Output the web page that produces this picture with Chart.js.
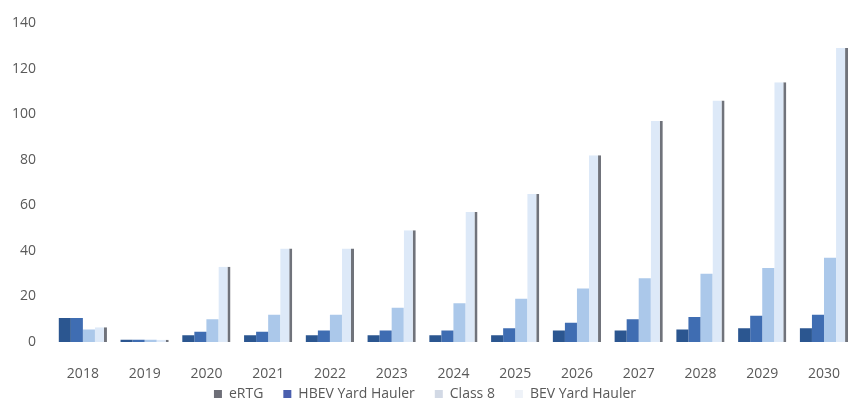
<!DOCTYPE html>
<html>
<head>
<meta charset="utf-8">
<script src="https://cdn.jsdelivr.net/npm/chart.js@4.4.1/dist/chart.umd.min.js"></script>
<style>
  html,body{margin:0;padding:0;background:#fff;overflow:hidden;}
  #wrap{position:relative;width:864px;height:405px;}
</style>
</head>
<body>
<div id="wrap"><canvas id="c"></canvas></div>
<script>
const years=['2018','2019','2020','2021','2022','2023','2024','2025','2026','2027','2028','2029','2030'];
const eRTG=[10.5,1,3,3,3,3,3,3,5,5,5.5,6,6];
const hbev=[10.5,1,4.5,4.5,5,5,5,6,8.5,10,11,11.5,12];
const class8=[5.5,1,10,12,12,15,17,19,23.5,28,30,32.5,37];
const bevYard=[6.5,1,33,41,41,49,57,65,82,97,106,114,129];
const yTicks=[0,20,40,60,80,100,120,140];

const barColors=['#2b5690','#3f6db2','#abc8ea','#dde9f8'];
const legendColors=['#6e6f78','#4a5fae','#d2d9e5','#eef2f8'];
const txt='#595959', fam='Open Sans';

const ds=(label,data,i,extra)=>Object.assign({label,data,backgroundColor:barColors[i],borderWidth:0,
  categoryPercentage:0.78,barPercentage:1},extra||{});

new Chart(document.getElementById('c'),{
  type:'bar',
  data:{labels:years,datasets:[
    ds('eRTG',eRTG,0),
    ds('HBEV Yard Hauler',hbev,1),
    ds('Class 8',class8,2),
    ds('BEV Yard Hauler',bevYard,3,{borderColor:'#70737b',borderWidth:{right:3,top:0,left:0,bottom:0},borderSkipped:false})
  ]},
  options:{
    responsive:true,maintainAspectRatio:false,animation:false,
    layout:{padding:{top:-4,left:0,right:0,bottom:-6}},
    plugins:{
      tooltip:{enabled:false},
      legend:{position:'bottom',
        labels:{boxWidth:8,boxHeight:8,padding:6,color:txt,font:{family:fam,size:14},
          // extra em space widens the gap between items without growing the legend height
          generateLabels:(chart)=>chart.data.datasets.map((d,i)=>({text:d.label+'\u2003',fillStyle:legendColors[i],strokeStyle:legendColors[i],lineWidth:0,datasetIndex:i,fontColor:txt}))}}
    },
    scales:{
      x:{grid:{display:false,drawTicks:false},border:{display:false},
        afterFit:(ax)=>{ax.height=39;},
        ticks:{color:txt,font:{family:fam,size:14},padding:24}},
      y:{min:0,max:140,grid:{display:false,drawTicks:false},border:{display:false},
        afterBuildTicks:(ax)=>{ax.ticks=yTicks.map(v=>({value:v}));},
        afterFit:(ax)=>{ax.width=52;},
        ticks:{color:txt,font:{family:fam,size:14,lineHeight:1},padding:16}}
    }
  }
});
</script>
</body>
</html>
